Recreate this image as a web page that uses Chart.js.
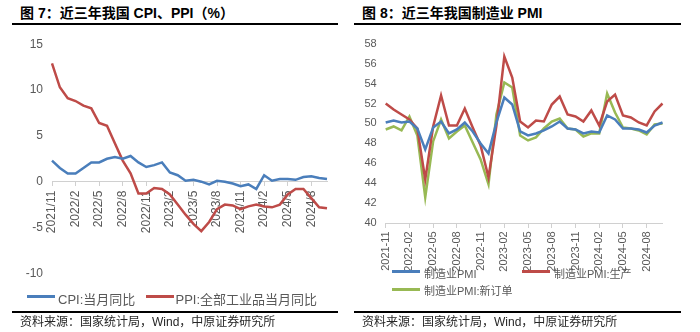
<!DOCTYPE html>
<html>
<head>
<meta charset="utf-8">
<script src="https://cdn.jsdelivr.net/npm/chart.js@4"></script>
<style>
  html, body { margin: 0; padding: 0; background: #fff; }
  body { width: 700px; height: 332px; position: relative; overflow: hidden;
         font-family: "Liberation Sans", Arial, "Noto Sans CJK SC", sans-serif; }
  .title { position: absolute; top: 5px; font-size: 14px; font-weight: bold; line-height: 16px; color: #000; white-space: nowrap; }
  .rule { position: absolute; height: 2px; background: #000; }
  .src { position: absolute; top: 315px; font-size: 12px; line-height: 14px; color: #262626; white-space: nowrap; }
  canvas { position: absolute; }
  .lg { position: absolute; white-space: nowrap; color: #595959; }
  .lg i { position: absolute; height: 2.5px; }
  .lg span { position: absolute; }
</style>
</head>
<body>
<div class="title" style="left:20px">图 7：近三年我国 CPI、PPI（%）</div>
<div class="rule" style="left:12px;width:326px;top:23px"></div>
<div class="title" style="left:362px">图 8：近三年我国制造业 PMI</div>
<div class="rule" style="left:354px;width:327px;top:23px"></div>

<canvas id="chartPrice" width="350" height="282" style="left:0;top:28px"></canvas>
<canvas id="chartPMI" width="350" height="282" style="left:350px;top:28px"></canvas>
<div id="legendPrice"></div>
<div id="legendPMI"></div>

<div class="rule" style="left:12px;width:326px;top:311px"></div>
<div class="rule" style="left:354px;width:327px;top:311px"></div>
<div class="src" style="left:20px">资料来源：国家统计局，Wind，中原证券研究所</div>
<div class="src" style="left:362px">资料来源：国家统计局，Wind，中原证券研究所</div>

<script>
/* ---- dados ---- */
const mesesBarra = ['2021/11','2021/12','2022/1','2022/2','2022/3','2022/4','2022/5','2022/6','2022/7','2022/8','2022/9','2022/10',
  '2022/11','2022/12','2023/1','2023/2','2023/3','2023/4','2023/5','2023/6','2023/7','2023/8','2023/9','2023/10',
  '2023/11','2023/12','2024/1','2024/2','2024/3','2024/4','2024/5','2024/6','2024/7','2024/8','2024/9','2024/10'];
const mesesHifen = ['2021-11','2021-12','2022-01','2022-02','2022-03','2022-04','2022-05','2022-06','2022-07','2022-08','2022-09','2022-10',
  '2022-11','2022-12','2023-01','2023-02','2023-03','2023-04','2023-05','2023-06','2023-07','2023-08','2023-09','2023-10',
  '2023-11','2023-12','2024-01','2024-02','2024-03','2024-04','2024-05','2024-06','2024-07','2024-08','2024-09','2024-10'];

const cpi = [2.3,1.5,0.9,0.9,1.5,2.1,2.1,2.5,2.7,2.5,2.8,2.1,1.6,1.8,2.1,1.0,0.7,0.1,0.2,0.0,-0.3,0.1,0.0,-0.2,
  -0.5,-0.3,-0.8,0.7,0.1,0.3,0.3,0.2,0.5,0.6,0.4,0.3];
const ppi = [12.9,10.3,9.1,8.8,8.3,8.0,6.4,6.1,4.2,2.3,0.9,-1.3,-1.3,-0.7,-0.8,-1.4,-2.5,-3.6,-4.6,-5.4,-4.4,-3.0,-2.5,-2.6,
  -3.0,-2.7,-2.5,-2.7,-2.8,-2.5,-1.4,-0.8,-0.8,-1.8,-2.8,-2.9];

const pmi = [50.1,50.3,50.1,50.2,49.5,47.4,49.6,50.2,49.0,49.4,50.1,49.2,48.0,47.0,50.1,52.6,51.9,49.2,48.8,49.0,49.3,49.7,50.2,49.5,
  49.4,49.0,49.2,49.1,50.8,50.4,49.5,49.5,49.4,49.1,49.8,50.1];
const pmiProducao = [52.0,51.4,50.9,50.4,49.5,44.4,49.7,52.8,49.8,49.8,51.5,49.6,47.8,44.6,49.8,56.7,54.6,50.2,49.6,50.3,50.2,51.9,52.7,50.9,
  50.7,50.2,51.3,49.8,52.2,52.9,50.8,50.6,50.1,49.8,51.2,52.0];
const pmiPedidos = [49.4,49.7,49.3,50.7,48.8,42.6,48.2,50.4,48.5,49.2,49.8,48.1,46.4,43.9,50.9,54.1,53.6,48.8,48.3,48.6,49.5,50.2,50.5,49.5,
  49.4,48.7,49.0,49.0,53.0,51.1,49.6,49.5,49.3,48.9,49.9,50.0];

const nomesPreco = ['CPI:当月同比', 'PPI:全部工业品当月同比'];
const nomesPMI = ['制造业PMI', '制造业PMI:生产', '制造业PMI:新订单'];

const AZUL = '#4a7ebb', VERMELHO = '#be4b48', VERDE = '#98b954';
const CINZA = '#595959';
const FONTE = '"Liberation Sans", Arial, sans-serif';

function serie(label, data, cor) {
  return { label, data, borderColor: cor, backgroundColor: cor, borderWidth: 2.5,
           pointRadius: 0, tension: 0, fill: false };
}

function eixoX(labels, eixoY, valorY, tamFonte, pad) {
  return {
    type: 'category',
    position: { [eixoY]: valorY },
    ticks: {
      autoSkip: false, minRotation: 90, maxRotation: 90, padding: pad,
      color: CINZA, font: { family: FONTE, size: tamFonte },
      callback: (v, i) => (i % 3 === 0 ? labels[i] : '')
    },
    grid: {
      drawOnChartArea: false, drawTicks: true, tickLength: 4,
      color: c => (c.index % 3 === 0 ? '#d0d0d0' : 'rgba(0,0,0,0)')
    },
    border: { display: true, color: '#d0d0d0', width: 1 }
  };
}

function eixoY(min, max, passo, largura, tamFonte) {
  return {
    min, max,
    ticks: { stepSize: passo, padding: 9, color: CINZA, font: { family: FONTE, size: tamFonte } },
    grid: { display: false, drawTicks: false },
    border: { display: false },
    afterFit: s => { s.width = largura; }
  };
}

/* ---- CPI / PPI ---- */
new Chart(document.getElementById('chartPrice'), {
  type: 'line',
  data: {
    labels: mesesBarra,
    datasets: [serie(nomesPreco[0], cpi, AZUL), serie(nomesPreco[1], ppi, VERMELHO)]
  },
  options: {
    responsive: false, animation: false,
    layout: { padding: { left: 0, right: 23, top: 12, bottom: 36.7 } },
    plugins: { legend: { display: false }, tooltip: { enabled: false } },
    scales: {
      y: eixoY(-10, 15, 5, 52, 12),
      x: eixoX(mesesBarra, 'y', 0, 12, 5)
    }
  }
});

/* ---- PMI ---- */
new Chart(document.getElementById('chartPMI'), {
  type: 'line',
  data: {
    labels: mesesHifen,
    datasets: [serie(nomesPMI[0], pmi, AZUL), serie(nomesPMI[1], pmiProducao, VERMELHO), serie(nomesPMI[2], pmiPedidos, VERDE)]
  },
  options: {
    responsive: false, animation: false,
    layout: { padding: { left: 0, right: 37.5, top: 8, bottom: 86.7 } },
    plugins: { legend: { display: false }, tooltip: { enabled: false } },
    scales: {
      y: eixoY(40, 58, 2, 35.7, 11),
      x: eixoX(mesesHifen, 'y', 40, 11, 4)
    }
  }
});

/* ---- legendas ---- */
function legenda(id, itens, tamFonte) {
  document.getElementById(id).innerHTML = itens.map(it => `
    <div class="lg" style="left:${it.x}px;top:${it.y}px;font-size:${tamFonte}px">
      <i style="left:0;top:-1.25px;width:28px;background:${it.cor}"></i>
      <span style="left:${it.dx}px;top:-${tamFonte * 0.62}px">${it.nome}</span>
    </div>`).join('');
}

legenda('legendPrice', [
  { nome: nomesPreco[0], cor: AZUL, x: 27, y: 296.7, dx: 31 },
  { nome: nomesPreco[1], cor: VERMELHO, x: 145.5, y: 296.7, dx: 30 }
], 13);

legenda('legendPMI', [
  { nome: nomesPMI[0], cor: AZUL, x: 392, y: 271.7, dx: 32 },
  { nome: nomesPMI[1], cor: VERMELHO, x: 522, y: 271.7, dx: 32 },
  { nome: nomesPMI[2], cor: VERDE, x: 392, y: 289.3, dx: 32 }
], 11);
</script>
</body>
</html>
